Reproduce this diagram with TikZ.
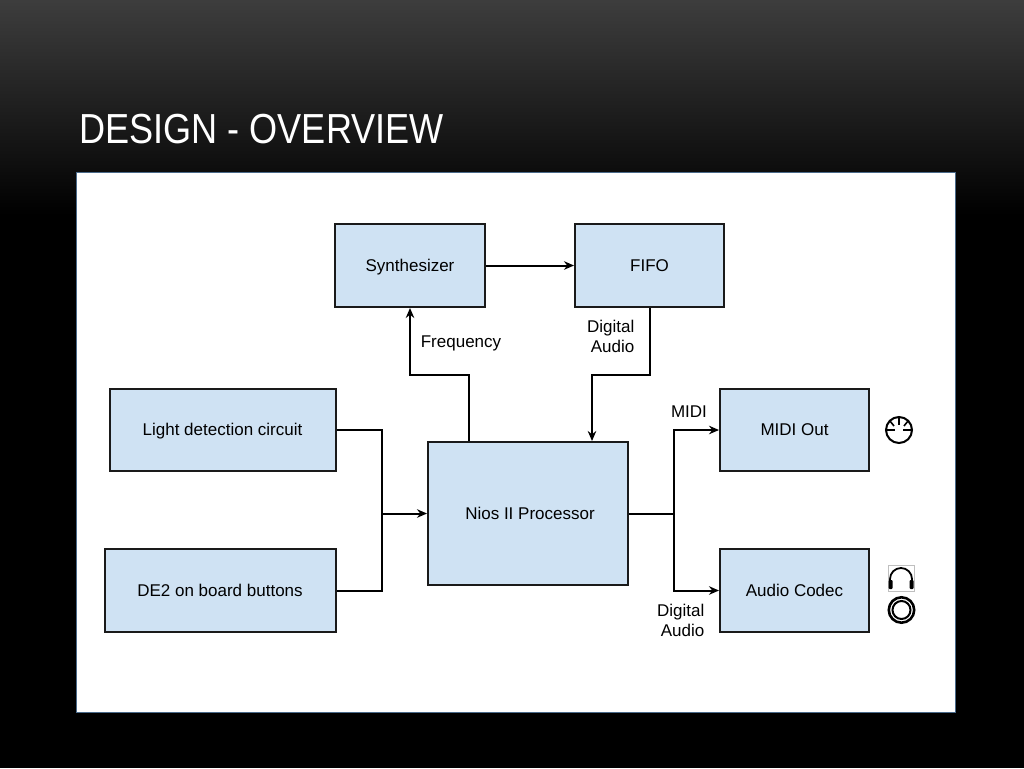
\documentclass[tikz,border=0pt]{standalone}
\usepackage{xcolor}
\usepackage{fontspec}
\setmainfont{Liberation Sans}
\usepackage{tikz}
\usetikzlibrary{calc,arrows.meta}
\tikzset{>={Stealth[length=10pt,width=8.5pt]}}
\definecolor{boxblue}{HTML}{CFE2F3}
\definecolor{boxline}{HTML}{1A1A1A}
\definecolor{panelline}{HTML}{4A6A8A}
\tikzset{
  blockbox/.style={draw=boxline,fill=boxblue,line width=2pt,inner sep=0pt,text height=12.5pt,text depth=1.3pt,font=\fontsize{17}{20}\selectfont},
  wire/.style={draw=black,line width=2pt,line join=miter},
  wirelabel/.style={inner sep=0pt,font=\fontsize{17}{20.5}\selectfont}
}

\begin{document}
\begin{tikzpicture}[x=1pt,y=-1pt]
    \useasboundingbox (0,0) rectangle (1024,768);
    \fill[black] (0,0) rectangle (1024,768);
    \shade[top color=black!76!white,bottom color=black] (0,0) rectangle (1024,215);
    \node[anchor=west,white,inner sep=0pt,xscale=0.86,font=\fontsize{42}{50}\selectfont] at (79,129) (title) {DESIGN - OVERVIEW};
    \draw[fill=white,draw=panelline,line width=1pt] (76.5,172.5) rectangle (955,712);

    \node[blockbox,minimum width=150pt,minimum height=83pt] at (410,265.5) (synth) {Synthesizer};
    \node[blockbox,minimum width=149pt,minimum height=83pt] at (649.5,265.5) (fifo) {FIFO};
    \node[blockbox,minimum width=226pt,minimum height=82pt] at (222.5,430) (light) {Light detection circuit};
    \node[blockbox,minimum width=231pt,minimum height=83pt] at (220,590.5) (buttons) {DE2 on board buttons};
    \node[blockbox,minimum width=200pt,minimum height=143pt] at (528,513.5) (nios) {\hspace{4pt}Nios II Processor};
    \node[blockbox,minimum width=149pt,minimum height=82pt] at (794.5,430) (midi) {MIDI Out};
    \node[blockbox,minimum width=149pt,minimum height=83pt] at (794.5,590.5) (codec) {Audio Codec};

    \coordinate (freq) at (469,374.5);
    \coordinate (aud) at (592,374.5);
    \coordinate (join) at (382,513.5);
    \coordinate (split) at (674,513.5);

    \draw[wire,->] (synth.east) -- (fifo.west);
    \draw[wire,->] (nios.north -| freq) -- (freq) -- (freq -| synth.south) -- (synth.south);
    \draw[wire,->] (fifo.south) -- (fifo.south |- aud) -- (aud) -- (aud |- nios.north);
    \draw[wire] (light.east) -- (light.east -| join) -- (buttons.east -| join) -- (buttons.east);
    \draw[wire,->] (join) -- (nios.west);
    \draw[wire] (nios.east) -- (split);
    \draw[wire,->] (split) -- (split |- midi.west) -- (midi.west);
    \draw[wire,->] (split) -- (split |- codec.west) -- (codec.west);

    \node[wirelabel] at (461,343) (freqlabel) {Frequency};
    \node[wirelabel,align=right,anchor=east] at (634.5,336.5) (fifolabel) {Digital\\Audio};
    \node[wirelabel] at (689,411.5) (midilabel) {MIDI};
    \node[wirelabel,align=right,anchor=east] at (704.5,620.5) (codeclabel) {Digital\\Audio};

    % midi plug
    \draw[line width=2pt] (899,430) circle (13);
    \draw[line width=2pt] (886,430) -- (895,430) (903,430) -- (912,430);
    \draw[line width=1.6pt] (899,417) -- (899,425);
    \draw[line width=1.6pt] (890,421) -- (894,426) (908,421) -- (904,426);
    % headphones
    \draw[draw=black!25,line width=0.7pt] (888,565.5) rectangle (914,591);
    \draw[line width=1.8pt] (890,582) -- (890,579) arc[start angle=180,end angle=360,radius=11] -- (912,582);
    \fill[rounded corners=1pt] (888.5,580) rectangle (892.5,589) (909.5,580) rectangle (913.5,589);
    % jack
    \draw[line width=2.6pt] (901.5,610) circle (12.7);
    \draw[line width=2pt] (901.5,610) circle (9);
\end{tikzpicture}
\end{document}
